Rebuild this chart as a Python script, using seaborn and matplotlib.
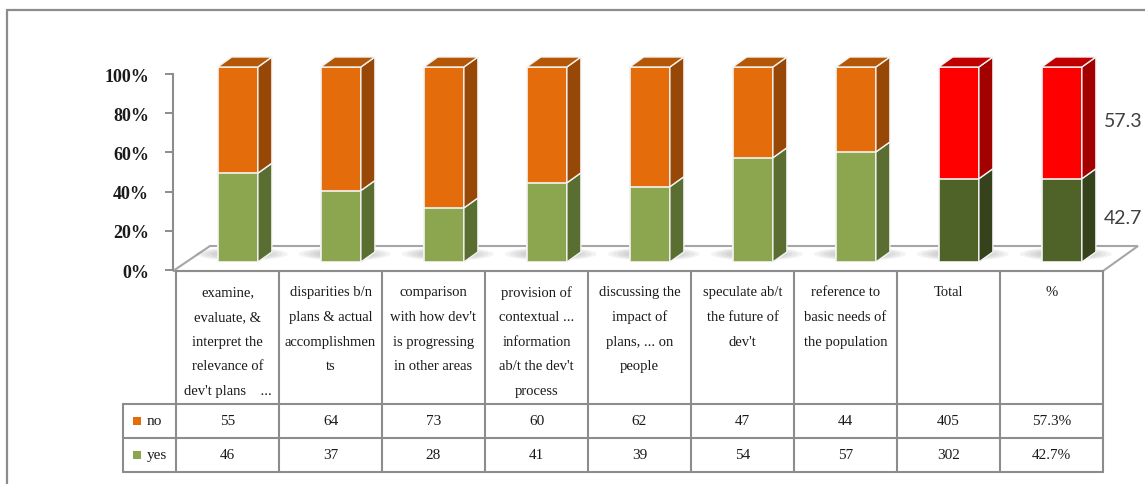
import numpy as np
import pandas as pd
import matplotlib
matplotlib.use("Agg")
import matplotlib.pyplot as plt
from matplotlib.patches import Polygon, Ellipse, Rectangle
import seaborn as sns

# ---- data -------------------------------------------------------------
categories = [
    "examine,\nevaluate, &\ninterpret the\nrelevance of\ndev't plans    ...",
    "disparities b/n\nplans & actual\naccomplishmen\nts",
    "comparison\nwith how dev't\nis progressing\nin other areas",
    "provision of\ncontextual ...\ninformation\nab/t the dev't\nprocess",
    "discussing the\nimpact of\nplans, ... on\npeople",
    "speculate ab/t\nthe future of\ndev't",
    "reference to\nbasic needs of\nthe population",
    "Total",
    "%",
]
series = ["no", "yes"]
no_values = [55, 64, 73, 60, 62, 47, 44, 405, 57.3]
yes_values = [46, 37, 28, 41, 39, 54, 57, 302, 42.7]
no_labels = ["55", "64", "73", "60", "62", "47", "44", "405", "57.3%"]
yes_labels = ["46", "37", "28", "41", "39", "54", "57", "302", "42.7%"]
y_ticks = [0.0, 0.2, 0.4, 0.6, 0.8, 1.0]
y_tick_labels = ["0%", "20%", "40%", "60%", "80%", "100%"]

# ---- styling ----------------------------------------------------------
sns.set_style("white")
plt.rcParams["font.family"] = ["Liberation Serif", "DejaVu Serif"]

W, H = 1145, 485
fig = plt.figure(figsize=(W / 100, H / 100), dpi=100)

GRID = "#8c8c8c"
TXT = "#1a1a1a"

n = len(categories)
highlight = {"Total", "%"}
no_front = ["#FF0000" if c in highlight else "#E46C0A" for c in categories]
no_top = ["#C00000" if c in highlight else "#B45807" for c in categories]
no_side = ["#A30000" if c in highlight else "#974806" for c in categories]
yes_front = ["#4F6228" if c in highlight else "#8BA64F" for c in categories]
yes_side = ["#35421B" if c in highlight else "#5A6E32" for c in categories]


def fx(px):
    return px / W


def fy(py):
    return (H - py) / H


# ---- background layer: frame, floor, data table -----------------------
bg = fig.add_axes([0, 0, 1, 1], zorder=0)
bg.set_xlim(0, W)
bg.set_ylim(H, 0)
bg.axis("off")

# outer frame
bg.plot([7, 7], [11, H + 5], color=GRID, lw=1.6, clip_on=False)
bg.plot([7, W + 5], [11, 11], color=GRID, lw=1.6, clip_on=False)

# table geometry
col_left = 176
col_w = 103
tbl_right = col_left + col_w * n
hdr_top, row1_top, row2_top, tbl_bottom = 272, 405, 439, 473
lab_left = 123

# floor of the 3-D plot area
floor_dx, floor_dy = 35, -25
floor = Polygon([(col_left - 3, hdr_top), (tbl_right, hdr_top),
                 (tbl_right + floor_dx, hdr_top + floor_dy),
                 (col_left - 3 + floor_dx + 2, hdr_top + floor_dy)],
                closed=True, facecolor="white", edgecolor="#a6a6a6", lw=1.5)
bg.add_patch(floor)

lw_t = 1.5
bg.plot([col_left, tbl_right], [hdr_top, hdr_top], color=GRID, lw=lw_t)
for y in (row1_top, row2_top, tbl_bottom):
    bg.plot([lab_left, tbl_right], [y, y], color=GRID, lw=lw_t)
bg.plot([lab_left, lab_left], [row1_top, tbl_bottom], color=GRID, lw=lw_t)
for k in range(n + 1):
    x = col_left + col_w * k
    bg.plot([x, x], [hdr_top, tbl_bottom], color=GRID, lw=lw_t)

# header text, one line at a time
line_gap = 24.6
for i, cat in enumerate(categories):
    cx = col_left + col_w * (i + 0.5)
    for k, line in enumerate(cat.split("\n")):
        bg.text(cx, 293 + k * line_gap, line, ha="center", va="center",
                fontsize=10.5, color=TXT)

# data rows
row_centers = [(row1_top + row2_top) / 2, (row2_top + tbl_bottom) / 2]
for r, (name, labels, key) in enumerate(zip(series, [no_labels, yes_labels],
                                            ["#E46C0A", "#8BA64F"])):
    yc = row_centers[r]
    bg.add_patch(Rectangle((133, yc - 4), 8, 8, facecolor=key, edgecolor="none"))
    bg.text(147, yc, name, ha="left", va="center", fontsize=11, color=TXT)
    for i, lab in enumerate(labels):
        bg.text(col_left + col_w * (i + 0.5), yc, lab, ha="center",
                va="center", fontsize=11, color=TXT)

# ---- bar layer --------------------------------------------------------
bar_bottom_px, bar_top_px = 263, 68
ax = fig.add_axes([fx(col_left), fy(bar_bottom_px), fx(col_w * n),
                   (bar_bottom_px - bar_top_px) / H], zorder=2)
ax.patch.set_alpha(0)

no_arr = np.array(no_values, dtype=float)
yes_arr = np.array(yes_values, dtype=float)
tot = no_arr + yes_arr
share_yes = yes_arr / tot
share_top = (yes_arr + no_arr) / tot

df = pd.DataFrame({"category": categories, "yes": share_yes, "top": share_top})
bar_w = 0.39
sns.barplot(data=df, x="category", y="top", hue="category",
            palette=no_front, width=bar_w, legend=False, ax=ax, saturation=1,
            edgecolor="#f4f4f4", linewidth=1.2, zorder=3)
sns.barplot(data=df, x="category", y="yes", hue="category",
            palette=yes_front, width=bar_w, legend=False, ax=ax, saturation=1,
            edgecolor="#f4f4f4", linewidth=1.2, zorder=3)

x_lo = -0.6
ax.set_xlim(x_lo, x_lo + n)
ax.set_ylim(0, 1)
ax.axis("off")

# depth of the bar prisms converted from pixels into data units
px_x = n / (col_w * n)
px_y = 1.0 / (bar_bottom_px - bar_top_px)
ddx, ddy = 14 * px_x, 10 * px_y

for i in range(n):
    xl, xr = i - bar_w / 2, i + bar_w / 2
    # soft shadow on the floor, reaching back behind the prism
    for s in range(6):
        ax.add_patch(Ellipse((i + 4 * px_x, 8 * px_y),
                             (92 - s * 10) * px_x, (13 - s * 1.4) * px_y,
                             facecolor="#6f6f6f", edgecolor="none",
                             alpha=0.08, zorder=1, clip_on=False))
    for y0, y1, col in ((0, share_yes[i], yes_side[i]),
                        (share_yes[i], share_top[i], no_side[i])):
        ax.add_patch(Polygon([(xr, y0), (xr + ddx, y0 + ddy),
                              (xr + ddx, y1 + ddy), (xr, y1)],
                             closed=True, facecolor=col, edgecolor="#f4f4f4",
                             lw=1.0, zorder=3, clip_on=False))
    ytop = share_top[i]
    ax.add_patch(Polygon([(xl, ytop), (xr, ytop), (xr + ddx, ytop + ddy),
                          (xl + ddx, ytop + ddy)], closed=True,
                         facecolor=no_top[i], edgecolor="#f4f4f4", lw=1.0,
                         zorder=3, clip_on=False))

# value labels beside the percentage column
last = n - 1
for y_mid, val in ((share_yes[last] / 2, yes_values[last]),
                   ((share_yes[last] + share_top[last]) / 2, no_values[last])):
    ax.annotate(f"{val:.1f}", xy=(last, y_mid), xytext=(30, 2),
                textcoords="offset points", ha="left", va="center",
                fontsize=14, color="#404040", family=["Lato", "DejaVu Sans"],
                annotation_clip=False)

# ---- value axis -------------------------------------------------------
ay = fig.add_axes([fx(173), fy(271), 0.5 / W, (271 - 75) / H], zorder=1)
ay.patch.set_alpha(0)
ay.set_ylim(0, 1)
ay.set_xticks([])
for side in ("top", "right", "bottom"):
    ay.spines[side].set_visible(False)
ay.spines["left"].set_color(GRID)
ay.spines["left"].set_linewidth(1.5)
ay.set_yticks(y_ticks)
ay.set_yticklabels(y_tick_labels, fontsize=13, fontweight="bold", color=TXT)
ay.tick_params(axis="y", direction="out", length=5.8, width=1.4,
               color=GRID, pad=11.5, left=True)

fig.savefig("out.png", dpi=100)
